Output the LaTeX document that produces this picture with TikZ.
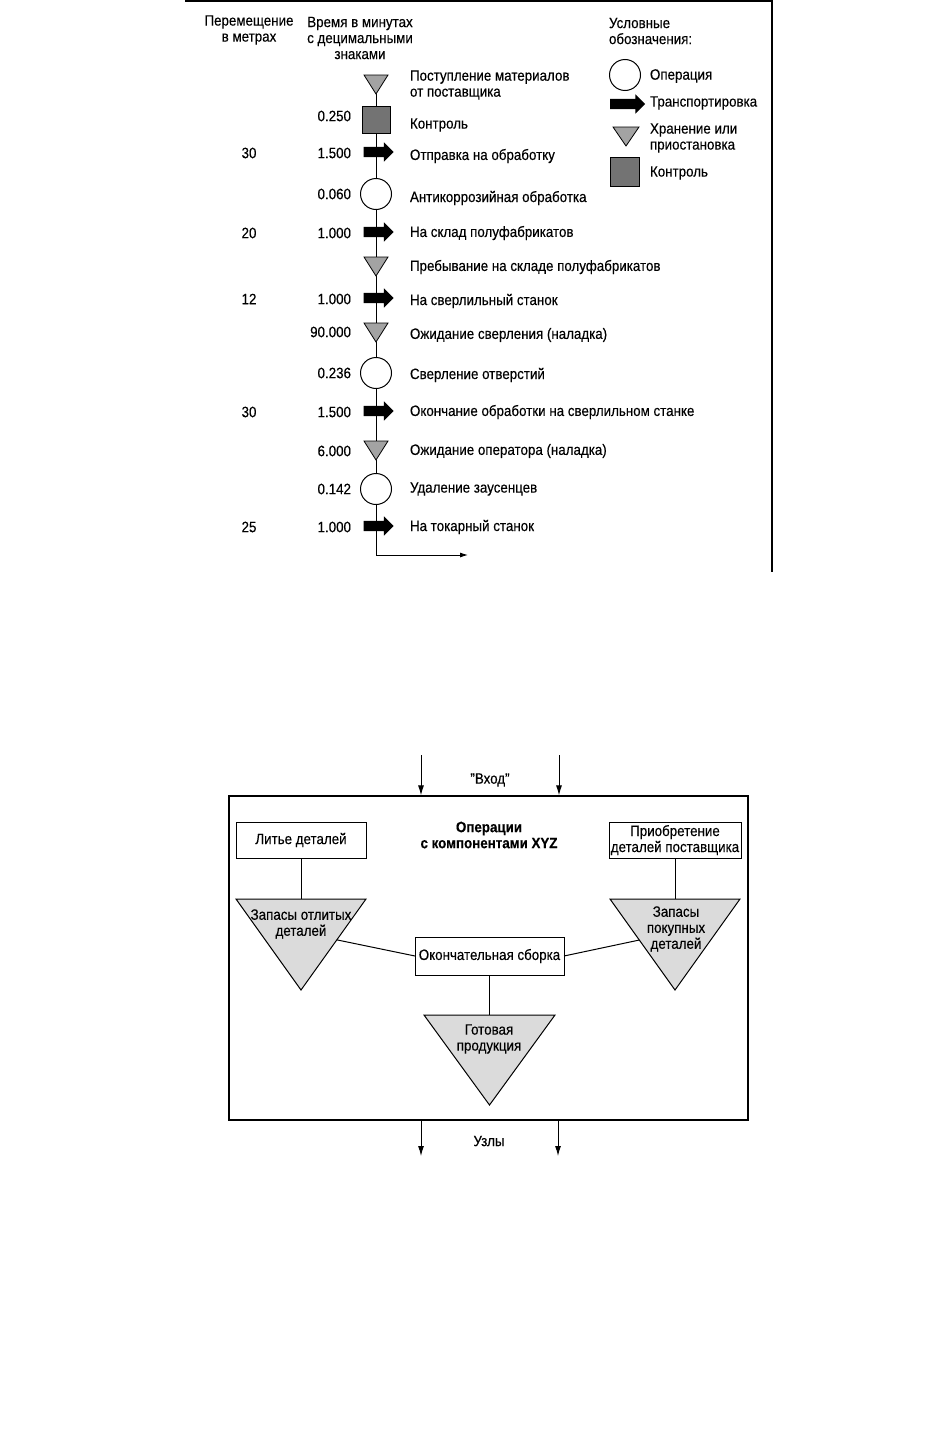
\documentclass[tikz,border=0pt]{standalone}
\usepackage{fontspec}
\setmainfont{Liberation Sans}[FakeStretch=0.89,FakeBold=0.25]
\usetikzlibrary{shapes.geometric,shapes.arrows,arrows.meta,calc}
\definecolor{trigray}{gray}{0.64}
\definecolor{ctlgray}{gray}{0.45}
\definecolor{stockgray}{gray}{0.86}
\tikzset{
  txt/.style={font=\fontsize{15}{16}\selectfont, inner sep=0pt, outer sep=0pt},
  lbl/.style={txt, anchor=west, align=left},
  num/.style={txt, anchor=east},
  mtr/.style={txt},
  optn/.style={circle, draw, line width=1pt, fill=white, minimum size=31pt, inner sep=0pt, outer sep=0pt},
  ctl/.style={rectangle, draw, line width=0.8pt, fill=ctlgray, minimum width=28pt, minimum height=27pt, inner sep=0pt, outer sep=0pt},
  trn/.style={single arrow, fill=black, draw=none, inner xsep=0pt, inner ysep=5pt, outer sep=0pt,
              minimum height=30pt, single arrow head extend=4.5pt, single arrow head indent=0pt},
  stor/.style={isosceles triangle, isosceles triangle stretches, shape border rotate=270,
               draw, line width=0.8pt, fill=trigray, inner sep=0pt, outer sep=0pt,
               minimum width=24pt, minimum height=19pt},
  bigtri/.style={isosceles triangle, isosceles triangle stretches, shape border rotate=270,
               draw, line width=1pt, fill=stockgray, inner sep=0pt, outer sep=0pt,
               minimum width=130pt, minimum height=91pt},
  pbox/.style={rectangle, draw, line width=1pt, fill=white, inner sep=0pt, outer sep=0pt, txt, align=center},
  conn/.style={line width=1pt},
  thin/.style={line width=0.9pt},
}
\begin{document}
\begin{tikzpicture}[x=1pt,y=-1pt]
\useasboundingbox (0,0) rectangle (942,1437);
\fill[white] (0,0) rectangle (942,1437);
% frame of the upper chart
\draw[line width=1.4pt] (185,1) -- (772,1) -- (772,572);

% headers
\node[txt, align=center] (hm) at (249,30) {Перемещение\\в метрах};
\node[txt, align=center] (ht) at (360,38) {Время в минутах\\с децимальными\\знаками};
\node[txt, align=left, anchor=west] (hl) at (609,31) {Условные\\обозначения:};

% legend
\node[optn] (lg1) at (625,75) {};
\node[lbl] at (650,76) {Операция};
\node[trn, minimum height=35pt] (lg2) at (625,104) {};
\node[lbl] at (650,103) {Транспортировка};
\node[stor, minimum width=26pt, anchor=apex] (lg3) at (626,146) {};
\node[lbl] at (650,138) {Хранение или\\приостановка};
\node[ctl, minimum width=29pt, minimum height=29pt] (lg4) at (625,172) {};
\node[lbl] at (650,173) {Контроль};

% process chart symbols
\node[stor, anchor=apex] (r1) at (376,94) {};
\node[ctl] (r2) at (376,119.5) {};
\node[trn] (r3) at (376,152) {};
\node[optn] (r4) at (376,194) {};
\node[trn] (r5) at (376,232) {};
\node[stor, anchor=apex] (r6) at (376,276) {};
\node[trn] (r7) at (376,298) {};
\node[stor, anchor=apex] (r8) at (376,342) {};
\node[optn] (r9) at (376,373) {};
\node[trn] (r10) at (376,411) {};
\node[stor, anchor=apex] (r11) at (376,460) {};
\node[optn] (r12) at (376,489) {};
\node[trn] (r13) at (376,526) {};
\coordinate (corner) at (376,555);
\coordinate (flowend) at (468,555);

\draw[thin] (r1) -- (r2) -- (r3) -- (r4) -- (r5) -- (r6) -- (r7) -- (r8) -- (r9) -- (r10) -- (r11) -- (r12) -- (r13) -- (corner);
\draw[thin, -{Latex[length=8pt,width=5pt]}] (corner) -- (flowend);

% times
\node[num] at (351,116) {0.250};
\node[num] at (351,153) {1.500};
\node[num] at (351,194) {0.060};
\node[num] at (351,233) {1.000};
\node[num] at (351,299) {1.000};
\node[num] at (351,332) {90.000};
\node[num] at (351,373) {0.236};
\node[num] at (351,412) {1.500};
\node[num] at (351,451) {6.000};
\node[num] at (351,489) {0.142};
\node[num] at (351,527) {1.000};
% metres
\node[mtr] at (249,153) {30};
\node[mtr] at (249,233) {20};
\node[mtr] at (249,299) {12};
\node[mtr] at (249,412) {30};
\node[mtr] at (249,527) {25};
% labels
\node[lbl] at (410,85) {Поступление материалов\\от поставщика};
\node[lbl] at (410,125) {Контроль};
\node[lbl] at (410,156) {Отправка на обработку};
\node[lbl] at (410,198) {Антикоррозийная обработка};
\node[lbl] at (410,233) {На склад полуфабрикатов};
\node[lbl] at (410,267) {Пребывание на складе полуфабрикатов};
\node[lbl] at (410,301) {На сверлильный станок};
\node[lbl] at (410,335) {Ожидание сверления (наладка)};
\node[lbl] at (410,375) {Сверление отверстий};
\node[lbl] at (410,412) {Окончание обработки на сверлильном станке};
\node[lbl] at (410,451) {Ожидание оператора (наладка)};
\node[lbl] at (410,489) {Удаление заусенцев};
\node[lbl] at (410,527) {На токарный станок};

% ===== lower diagram =====
\node[rectangle, draw, line width=1.2pt, minimum width=519pt, minimum height=324pt, inner sep=0pt] (frame) at (488.5,958) {};
\node[txt, font=\fontsize{15}{16}\selectfont\bfseries, align=center] (title) at (489,835) {Операции\\с компонентами XYZ};

\node[pbox, minimum width=130pt, minimum height=36pt] (cast) at (301,840) {Литье деталей};
\node[pbox, minimum width=132pt, minimum height=36pt] (buy) at (675,840) {Приобретение\\деталей поставщика};
\node[bigtri, anchor=apex] (lt) at (301,990) {};
\node[bigtri, anchor=apex] (rt) at (675,990) {};
\node[pbox, minimum width=149pt, minimum height=38pt] (asm) at (489.5,956) {Окончательная сборка};
\node[bigtri, minimum height=90pt, minimum width=131pt, anchor=apex] (bt) at (489.5,1105) {};

\node[txt, align=center] (ltt) at (301,924) {Запасы отлитых\\деталей};
\node[txt, align=center] (rtt) at (676,929) {Запасы\\покупных\\деталей};
\node[txt, align=center] (btt) at (489,1039) {Готовая\\продукция};

\draw[conn] (cast) -- (lt);
\draw[conn] (buy) -- (rt);
\draw[conn] (lt) -- (asm.west);
\draw[conn] (asm.east) -- (rt);
\draw[conn] (asm) -- (bt);

% inputs and outputs
\coordinate (in1) at (421,755);
\coordinate (in2) at (559,755);
\draw[conn, -{Latex[length=10pt,width=6pt]}] (in1) -- (in1 |- frame.north);
\draw[conn, -{Latex[length=10pt,width=6pt]}] (in2) -- (in2 |- frame.north);
\node[txt] (inlbl) at (490,780) {"Вход"};
\coordinate (out1) at (421,1156);
\coordinate (out2) at (558,1156);
\draw[conn, -{Latex[length=10pt,width=6pt]}] (out1 |- frame.south) -- (out1);
\draw[conn, -{Latex[length=10pt,width=6pt]}] (out2 |- frame.south) -- (out2);
\node[txt] (outlbl) at (489,1141) {Узлы};
\end{tikzpicture}
\end{document}
